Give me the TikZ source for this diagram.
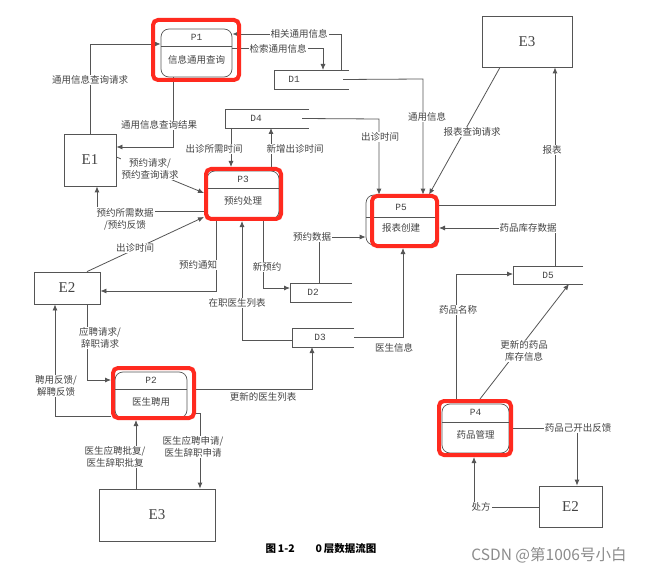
\documentclass[tikz,border=0pt]{standalone}
\usepackage{fontspec}
\setmainfont{Liberation Serif}
\newfontfamily\cjk{Noto Sans CJK SC}
\newfontfamily\monof{Liberation Mono}
\usetikzlibrary{arrows.meta}
\definecolor{lnc}{HTML}{555555}
\definecolor{txc}{HTML}{444444}
\definecolor{hlc}{HTML}{FF2A1F}
\tikzset{
 wire/.style={draw=lnc, line width=0.8pt},
 arr/.style={wire, -{Latex[length=6pt,width=5pt]}},
 lab/.style={fill=white, inner sep=1pt, text=txc, font=\cjk\fontsize{9.5}{12}\selectfont, align=center},
 ent/.style={draw=lnc, line width=0.8pt, inner sep=0pt, font=\fontsize{15}{15}\selectfont, text=txc},
 proc/.style={draw=lnc, line width=0.7pt, rounded corners=8pt, inner sep=0pt},
 hlbox/.style={inner sep=0pt, outer sep=2pt},
 ds/.style={inner sep=0pt, outer sep=0pt},
 idtext/.style={font=\monof\fontsize{9.5}{10}\selectfont, text=txc, inner sep=0pt},
 ptext/.style={font=\cjk\fontsize{9.5}{11}\selectfont, text=txc, inner sep=0pt},
}
\begin{document}
\begin{tikzpicture}[x=1pt,y=-1pt]
\useasboundingbox (0,0) rectangle (645,572);
\fill[white] (0,0) rectangle (645,572);

% ---------- external entities ----------
\node[ent, minimum width=52pt, minimum height=52pt] (E1) at (90,160) {E1};
\node[ent, minimum width=90pt, minimum height=51pt] (E3t) at (527,41.5) {E3};
\node[ent, minimum width=66pt, minimum height=32pt] (E2l) at (67,288) {E2};
\node[ent, minimum width=116pt, minimum height=52pt] (E3b) at (157,515) {E3};
\node[ent, minimum width=63pt, minimum height=41pt] (E2r) at (570.5,506.5) {E2};

% ---------- data stores ----------
\node[ds, minimum width=75pt, minimum height=19pt] (D1) at (311.5,79.5) {};
\node[ds, minimum width=84pt, minimum height=19pt] (D4) at (267,118.5) {};
\node[ds, minimum width=62pt, minimum height=19pt] (D2) at (321,292.5) {};
\node[ds, minimum width=62pt, minimum height=19pt] (D3) at (323,337.5) {};
\node[ds, minimum width=70pt, minimum height=18pt] (D5) at (548,275) {};
\foreach \d/\o in {D1/20,D4/31,D2/23,D3/28,D5/35}{
  \draw[wire] (\d.north east) -- (\d.north west) -- (\d.south west) -- (\d.south east);
  \node[idtext] at ([xshift=\o pt]\d.west) {\d};
}

% ---------- processes ----------
\node[proc, minimum width=71pt, minimum height=48pt] (P1) at (196.5,53) {};
\draw[wire, line width=0.7pt] (161,46.7) -- (232,46.7);
\node[idtext] at (196.5,37) {P1};
\node[ptext] at (196.5,60) {信息通用查询};

\node[proc, minimum width=72pt, minimum height=48pt] (P3) at (243,195) {};
\draw[wire, line width=0.7pt] (207,188) -- (279,188);
\node[idtext] at (243,179) {P3};
\node[ptext] at (243,201) {预约处理};

\node[proc, minimum width=70pt, minimum height=50pt] (P5) at (401,220) {};
\draw[wire, line width=0.7pt] (366,217) -- (436,217);
\node[idtext] at (401,207) {P5};
\node[ptext] at (401,228) {报表创建};

\node[proc, minimum width=72pt, minimum height=46pt] (P2) at (151,395) {};
\draw[wire, line width=0.7pt] (115,389) -- (187,389);
\node[idtext] at (151,380) {P2};
\node[ptext] at (151,402) {医生聘用};

\node[proc, minimum width=67pt, minimum height=49pt] (P4) at (475.5,428.5) {};
\draw[wire, line width=0.7pt] (442,422) -- (509,422);
\node[idtext] at (475.5,412) {P4};
\node[ptext] at (475.5,435) {药品管理};

% red highlight frames (anchor nodes, drawn later on top)
\node[hlbox, minimum width=86pt, minimum height=60pt] (P1r) at (196,50) {};
\node[hlbox, minimum width=75pt, minimum height=50pt] (P3r) at (243.5,194) {};
\node[hlbox, minimum width=65pt, minimum height=50pt] (P5r) at (404.5,221) {};
\node[hlbox, minimum width=81pt, minimum height=50pt] (P2r) at (153.5,393) {};
\node[hlbox, minimum width=72pt, minimum height=54pt] (P4r) at (475,428) {};

% ---------- bend coordinates ----------
\coordinate (k1) at (341,34);
\coordinate (k2) at (323,48);
\coordinate (k3) at (90,44);
\coordinate (k4) at (173,147);
\coordinate (k5) at (423,79);
\coordinate (k6) at (379,119);
\coordinate (k7a) at (500,67);
\coordinate (k7) at (429,195);
\coordinate (k8) at (555,205);
\coordinate (k9) at (555,228);
\coordinate (k10) at (319,237);
\coordinate (k11) at (403,337);
\coordinate (k12) at (231,149);
\coordinate (k13) at (271,149);
\coordinate (k14a) at (0,157);
\coordinate (k14b) at (0,193);
\coordinate (k15) at (97,211);
\coordinate (k16a) at (87,0);
\coordinate (k16b) at (0,217);
\coordinate (k17) at (216,291);
\coordinate (k18) at (242,340);
\coordinate (k19) at (263,288);
\coordinate (k20) at (87,380);
\coordinate (k21) at (55,416);
\coordinate (k22) at (312,389);
\coordinate (k23) at (200,413);
\coordinate (k24) at (136,0);
\coordinate (k25) at (456,274);
\coordinate (k26a) at (480,0);
\coordinate (k26b) at (569,0);
\coordinate (k27) at (577,428);
\coordinate (k28) at (474,507);

% ---------- connectors ----------
\draw[arr] (D1.north -| k1) -- (k1) -- (P1.east |- k1);
\draw[arr] (P1.east |- k2) -- (k2) -- (D1.north -| k2);
\draw[arr] (E1.north) -- (k3) -- (P1.west |- k3);
\draw[arr] (P1.south -| k4) -- (k4) -- (E1.east |- k4);
\draw[arr] ([xshift=-6pt]D1.east) -- (k5) -- (P5.north -| k5);
\draw[arr] ([xshift=-7pt]D4.east) -- (k6) -- (P5.north -| k6);
\draw[arr] (E3t.south -| k7a) -- (P5.north -| k7);
\draw[arr] (P5r.east |- k8) -- (k8) -- (E3t.south -| k8);
\draw[arr] (D5.north -| k9) -- (k9) -- (P5r.east |- k9);
\draw[arr] (D2.north -| k10) -- (k10) -- (P5.west |- k10);
\draw[arr] (D3.east |- k11) -- (k11) -- (P5r.south -| k11);
\draw[arr] (D4.south -| k12) -- (P3r.north -| k12);
\draw[arr] (P3r.north -| k13) -- (D4.south -| k13);
\draw[arr] (E1.east |- k14a) -- (P3r.west |- k14b);
\draw[arr] (P3r.west |- k15) -- (k15) -- (E1.south -| k15);
\draw[arr] (E2l.north -| k16a) -- (P3r.west |- k16b);
\draw[arr] (P3r.south -| k17) -- (k17) -- (E2l.east |- k17);
\draw[arr] (D3.west |- k18) -- (k18) -- (P3r.south -| k18);
\draw[arr] (P3r.south -| k19) -- (k19) -- (D2.west |- k19);
\draw[arr] (E2l.south -| k20) -- (k20) -- (P2r.west |- k20);
\draw[arr] (P2r.west |- k21) -- (k21) -- (E2l.south -| k21);
\draw[arr] (P2r.east |- k22) -- (k22) -- (D3.south -| k22);
\draw[arr] (P2r.east |- k23) -- (k23) -- (E3b.north -| k23);
\draw[arr] (E3b.north -| k24) -- (P2r.south -| k24);
\draw[arr] (P4r.north -| k25) -- (k25) -- (D5.west |- k25);
\draw[arr] (P4r.north -| k26a) -- (D5.south -| k26b);
\draw[arr] (P4r.east |- k27) -- (k27) -- (E2r.north -| k27);
\draw[arr] (E2r.west |- k28) -- (k28) -- (P4r.south -| k28);

% red frames on top
\foreach \p in {P1r,P3r,P5r,P2r,P4r}{
  \draw[draw=hlc, line width=4pt, rounded corners=5pt] ([shift={(2pt,-2pt)}]\p.north west) rectangle ([shift={(-2pt,2pt)}]\p.south east);
}

% ---------- labels ----------
\node[lab] at (299,34) {相关通用信息};
\node[lab] at (278,49) {检索通用信息};
\node[lab] at (90,80) {通用信息查询请求};
\node[lab] at (159,125) {通用信息查询结果};
\node[lab] at (427,117) {通用信息};
\node[lab] at (380,137) {出诊时间};
\node[lab] at (472,132) {报表查询请求};
\node[lab] at (552,150) {报表};
\node[lab] at (528,228) {药品库存数据};
\node[lab] at (312,237) {预约数据};
\node[lab] at (394,348) {医生信息};
\node[lab] at (214,149) {出诊所需时间};
\node[lab] at (295,149) {新增出诊时间};
\node[lab] at (150,169) {预约请求/\\预约查询请求};
\node[lab] at (125,219) {预约所需数据\\/预约反馈};
\node[lab] at (135,248) {出诊时间};
\node[lab] at (198,265) {预约通知};
\node[lab] at (237,303) {在职医生列表};
\node[lab] at (267,267) {新预约};
\node[lab] at (100,338) {应聘请求/\\辞职请求};
\node[lab] at (56,386) {聘用反馈/\\解聘反馈};
\node[lab] at (263,397) {更新的医生列表};
\node[lab] at (193,447) {医生应聘申请/\\医生辞职申请};
\node[lab] at (115,457) {医生应聘批复/\\医生辞职批复};
\node[lab] at (458,310) {药品名称};
\node[lab] at (524,351) {更新的药品\\库存信息};
\node[lab] at (578,428) {药品己开出反馈};
\node[lab] at (481,507) {处方};

% caption and watermark
\node[font=\cjk\bfseries\fontsize{10.5}{11}\selectfont, inner sep=0pt] (cap) at (321,549) {图\,1-2\qquad 0\,层数据流图};
\node[font=\cjk\fontsize{15.5}{16}\selectfont, text=black!45, inner sep=0pt] (wm) at (549,555) {CSDN @第1006号小白};
\end{tikzpicture}
\end{document}
